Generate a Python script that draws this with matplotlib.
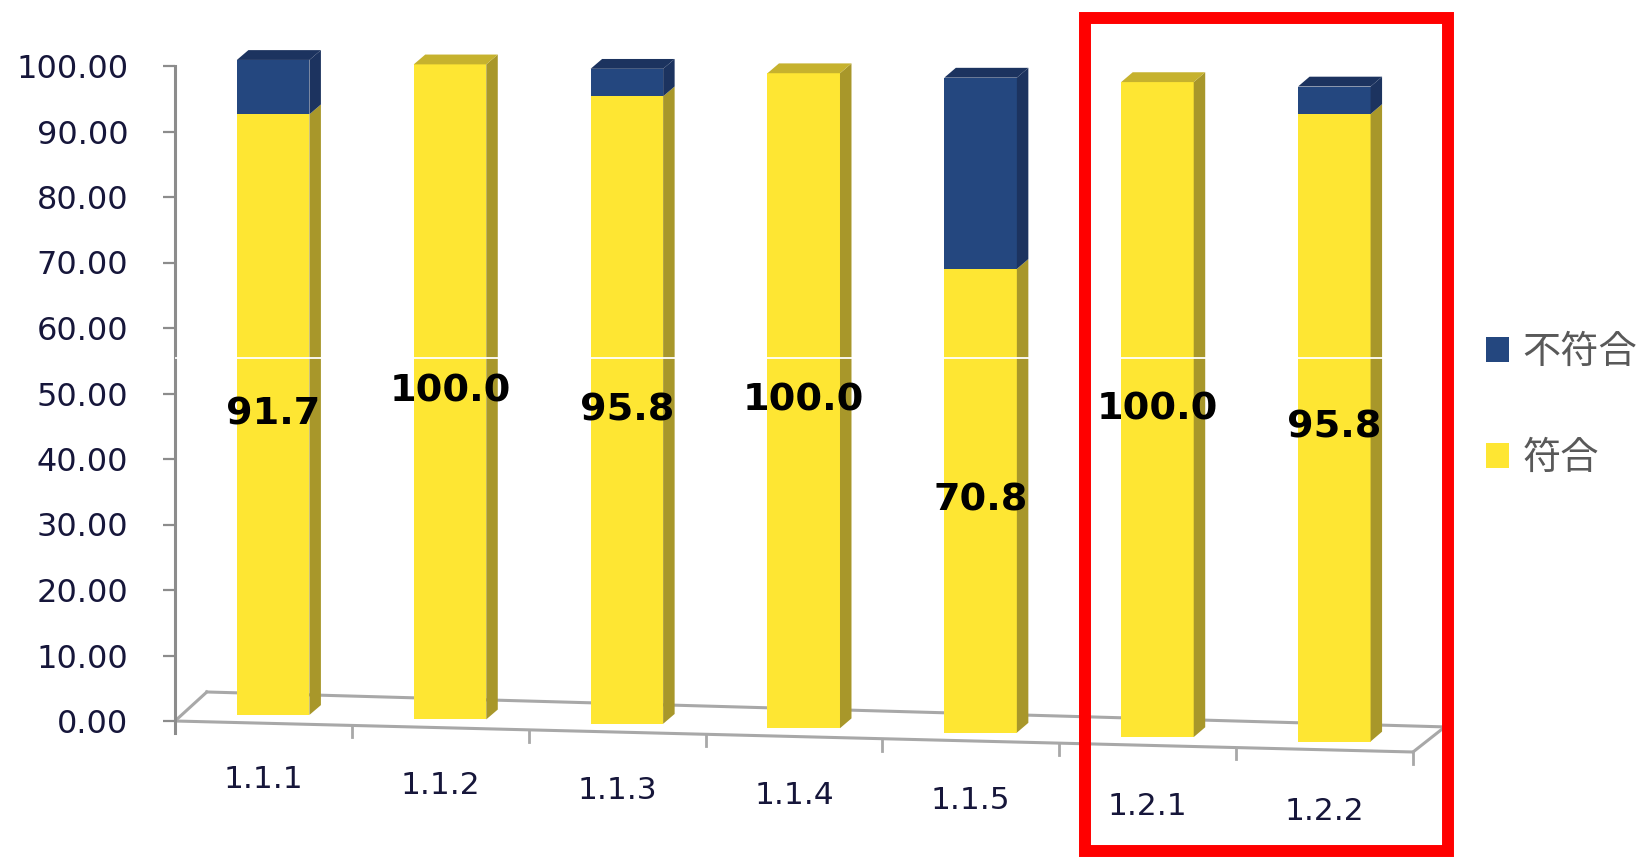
import numpy as np
import matplotlib
matplotlib.use('Agg')
import matplotlib.pyplot as plt
from matplotlib.patches import Polygon, Rectangle
from matplotlib.font_manager import FontProperties

# ---------------------------------------------------------
# DATA
# ---------------------------------------------------------
categories = ['1.1.1', '1.1.2', '1.1.3', '1.1.4', '1.1.5', '1.2.1', '1.2.2']
conform = [91.7, 100.0, 95.8, 100.0, 70.8, 100.0, 95.8]      # 符合
nonconform = [8.3, 0.0, 4.2, 0.0, 29.2, 0.0, 4.2]            # 不符合
y_ticks = [0, 10, 20, 30, 40, 50, 60, 70, 80, 90, 100]
highlight = ['1.2.1', '1.2.2']

# ---------------------------------------------------------
# STYLE / fake-3D geometry
# ---------------------------------------------------------
YELLOW, YELLOW_SIDE, YELLOW_TOP = '#FEE633', '#A8972A', '#C6B22E'
BLUE, BLUE_SIDE, BLUE_TOP = '#24477F', '#1C335F', '#1C335F'
GRID_GREY = '#a8a8a8'
TEXT_DARK = '#16163a'

SKEW = 0.676        # floor drop per category (value units)
DEPTH_Y = 1.3       # bars sit a little back on the floor
BAR_LEFT = 0.35
BAR_W = 0.41
SIDE_DX, SIDE_DY = 0.065, 1.5
FLOOR_DX, FLOOR_DY = 0.18, 4.43
LABEL_Y, LABEL_SKEW = -8.6, 0.8

PX_X, PX_Y = 176.86, 6.55   # pixels per data unit
X0_PX, Y0_PX = 175, 721     # pixel of data origin
W, H = 1652, 857
XMAX, YMIN, YMAX = 7.4, -20, 109


def side_faces(ax, x0, bottoms, heights, side_c, top_c, draw_top):
    for xl, b, h, top in zip(x0, bottoms, heights, draw_top):
        if h <= 0:
            continue
        xr = xl + BAR_W
        ax.add_patch(Polygon([(xr, b), (xr + SIDE_DX, b + SIDE_DY),
                              (xr + SIDE_DX, b + h + SIDE_DY), (xr, b + h)],
                             closed=True, facecolor=side_c, edgecolor='none', zorder=3))
        if top:
            ax.add_patch(Polygon([(xl, b + h), (xl + SIDE_DX, b + h + SIDE_DY),
                                  (xr + SIDE_DX, b + h + SIDE_DY), (xr, b + h)],
                                 closed=True, facecolor=top_c, edgecolor='none', zorder=3))


def main():
    fig = plt.figure(figsize=(W / 100, H / 100), dpi=100)
    ax = fig.add_axes([X0_PX / W, (H - (Y0_PX - YMIN * PX_Y)) / H,
                       XMAX * PX_X / W, (YMAX - YMIN) * PX_Y / H])
    ax.set_xlim(0, XMAX)
    ax.set_ylim(YMIN, YMAX)

    n = len(categories)
    idx = np.arange(n)
    x_left = idx + BAR_LEFT
    xc = x_left + BAR_W / 2
    base = DEPTH_Y - SKEW * xc
    conform_a = np.array(conform)
    nonconform_a = np.array(nonconform)

    # floor
    ax.plot([0, n], [0, -SKEW * n], color=GRID_GREY, lw=2.2, zorder=1, solid_capstyle='butt')
    ax.plot([FLOOR_DX, n + FLOOR_DX], [FLOOR_DY, FLOOR_DY - SKEW * n - 0.6],
            color=GRID_GREY, lw=2.2, zorder=1)
    ax.plot([0, FLOOR_DX], [0, FLOOR_DY], color=GRID_GREY, lw=2.2, zorder=1)
    ax.plot([n, n + FLOOR_DX], [-SKEW * n, FLOOR_DY - SKEW * n - 0.6],
            color=GRID_GREY, lw=2.2, zorder=1)
    for k in range(n + 1):
        ax.plot([k, k], [-SKEW * k, -SKEW * k - 1.8], color=GRID_GREY, lw=2, zorder=1)

    # bars (front faces)
    b_yes = ax.bar(x_left, conform_a, width=BAR_W, bottom=base, align='edge',
                   color=YELLOW, edgecolor='none', zorder=2, label='符合')
    b_no = ax.bar(x_left, nonconform_a, width=BAR_W, bottom=base + conform_a, align='edge',
                  color=BLUE, edgecolor='none', zorder=2, label='不符合')

    side_faces(ax, x_left, base, conform_a, YELLOW_SIDE, YELLOW_TOP, nonconform_a <= 0)
    side_faces(ax, x_left, base + conform_a, nonconform_a, BLUE_SIDE, BLUE_TOP,
               nonconform_a > 0)

    # value labels
    for x, b, v in zip(xc, base, conform_a):
        ax.text(x, b + v / 2, f'{v:.1f}', ha='center', va='center',
                fontsize=27.5, fontweight='bold', color='black', zorder=5)

    # category labels along the slanted floor
    for k, cat in enumerate(categories):
        ax.text(k + 0.5, LABEL_Y - LABEL_SKEW * (k + 0.5), cat, ha='center', va='center',
                fontsize=22.5, color=TEXT_DARK)

    # y axis
    for s in ['top', 'right', 'bottom']:
        ax.spines[s].set_visible(False)
    ax.spines['left'].set_bounds(-1.8, 100)
    ax.spines['left'].set_color('#8c8c8c')
    ax.spines['left'].set_linewidth(2.2)
    ax.set_xticks([])
    ax.set_yticks(y_ticks)
    ax.set_yticklabels([f'{t:.2f}' for t in y_ticks])
    ax.tick_params(axis='y', length=8.6, width=1.6, color='#8c8c8c', pad=25,
                   labelsize=23, labelcolor=TEXT_DARK)

    # scan seam line in the original
    ax.axhline(55.4, color='white', lw=1.3, zorder=6)

    # red highlight box around the 1.2.x group
    i0 = categories.index(highlight[0])
    i1 = categories.index(highlight[-1])
    ax.add_patch(Rectangle((i0 + 0.145, -19.85), i1 + 1.198 - (i0 + 0.145), 127.15,
                           fill=False, edgecolor='#FF0000', lw=8.6, clip_on=False, zorder=7))

    # legend
    leg = ax.legend(handles=[b_no, b_yes], labels=['不符合', '符合'],
                    loc='upper left', bbox_to_anchor=(1486 / W, 1 - 333 / H),
                    bbox_transform=fig.transFigure, frameon=False,
                    prop=FontProperties(family=['Noto Sans CJK JP', 'DejaVu Sans'], size=27.5),
                    handlelength=0.6, handleheight=0.6, handletextpad=0.35,
                    labelspacing=1.75, borderpad=0, borderaxespad=0)
    for t in leg.get_texts():
        t.set_color('#595959')

    fig.savefig('out.png', dpi=100)


if __name__ == '__main__':
    main()
